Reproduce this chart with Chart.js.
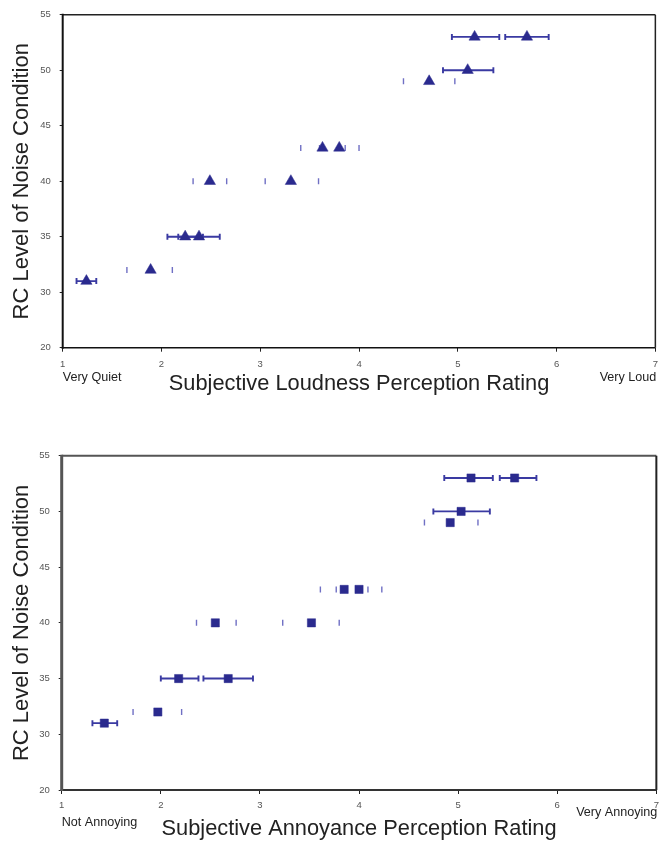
<!DOCTYPE html>
<html>
<head>
<meta charset="utf-8">
<script src="https://cdn.jsdelivr.net/npm/chart.js@4.4.1/dist/chart.umd.min.js"></script>
<style>
  html, body { margin: 0; padding: 0; background: #fff; }
  body { width: 665px; height: 842px; position: relative; overflow: hidden; }
  .box { position: absolute; left: 0; width: 665px; }
  #topBox { top: 0; height: 400px; }
  #bottomBox { top: 400px; height: 442px; }
</style>
</head>
<body>
<div class="box" id="topBox"><canvas id="loudChart"></canvas></div>
<div class="box" id="bottomBox"><canvas id="annoyChart"></canvas></div>
<script>
// y axis is broken at the bottom: the 25 position is labelled "20"
const yTickValues = [25, 30, 35, 40, 45, 50, 55];
const yTickLabels = ["20", "30", "35", "40", "45", "50", "55"];

// loudness ratings
const loudRC = [31, 32, 35, 35, 40, 40, 43, 43, 49, 50, 53, 53];
const loudMean = [1.24, 1.89, 2.24, 2.38, 2.49, 3.31, 3.63, 3.80, 4.71, 5.10, 5.17, 5.70];
const loudLow = [1.14, 1.65, 2.06, 2.17, 2.32, 3.05, 3.41, 3.60, 4.45, 4.85, 4.94, 5.48];
const loudHigh = [1.34, 2.11, 2.42, 2.59, 2.66, 3.59, 3.86, 4.00, 4.97, 5.36, 5.42, 5.92];

// annoyance ratings
const annoyRC = [31, 32, 35, 35, 40, 40, 43, 43, 49, 50, 53, 53];
const annoyMean = [1.43, 1.97, 2.18, 2.68, 2.55, 3.52, 3.85, 4.00, 4.92, 5.03, 5.13, 5.57];
const annoyLow = [1.31, 1.72, 2.00, 2.43, 2.36, 3.23, 3.61, 3.77, 4.66, 4.75, 4.86, 5.42];
const annoyHigh = [1.56, 2.21, 2.38, 2.93, 2.76, 3.80, 4.09, 4.23, 5.20, 5.32, 5.35, 5.79];

// in the scan some error bars only show their end caps
const capsOnly = [false, true, false, false, true, true, true, true, true, false, false, false];

const MARK = "#2a2a8e";
const BAR = "#3a3aa2";

function errorBars(rc, low, high) {
  return {
    id: "errorBars",
    beforeDatasetsDraw(chart) {
      const ctx = chart.ctx;
      const xs = chart.scales.x, ys = chart.scales.y;
      ctx.save();
      for (let i = 0; i < rc.length; i++) {
        const y = ys.getPixelForValue(rc[i]);
        const x1 = xs.getPixelForValue(low[i]);
        const x2 = xs.getPixelForValue(high[i]);
        ctx.strokeStyle = capsOnly[i] ? "#7070c4" : BAR;
        ctx.lineWidth = capsOnly[i] ? 1.4 : 1.9;
        ctx.beginPath();
        if (!capsOnly[i]) {
          ctx.moveTo(x1, y);
          ctx.lineTo(x2, y);
        }
        ctx.moveTo(x1, y - 3);
        ctx.lineTo(x1, y + 3);
        ctx.moveTo(x2, y - 3);
        ctx.lineTo(x2, y + 3);
        ctx.stroke();
      }
      ctx.restore();
    }
  };
}

function frame(f) {
  return {
    id: "frame",
    afterDraw(chart) {
      const { ctx, chartArea: a } = chart;
      const side = (w, c, x1, y1, x2, y2) => {
        ctx.lineWidth = w;
        ctx.strokeStyle = c;
        ctx.beginPath();
        ctx.moveTo(x1, y1);
        ctx.lineTo(x2, y2);
        ctx.stroke();
      };
      ctx.save();
      side(f.top[0], f.top[1], a.left, a.top, a.right, a.top);
      side(f.right[0], f.right[1], a.right, a.top, a.right, a.bottom);
      side(f.bottom[0], f.bottom[1], a.left - 1, a.bottom, a.right, a.bottom);
      side(f.left[0], f.left[1], a.left, a.top - 1, a.left, a.bottom + 1);

      // end-of-scale words under the x axis
      ctx.fillStyle = "#222";
      ctx.font = "12.6px 'Liberation Sans', Arial, sans-serif";
      ctx.textBaseline = "middle";
      ctx.textAlign = "left";
      ctx.fillText(f.leftWord, a.left, a.bottom + f.leftDy);
      ctx.textAlign = "right";
      ctx.fillText(f.rightWord, a.right + 1, a.bottom + f.rightDy);
      ctx.restore();
    }
  };
}

function makeChart(id, rc, mean, low, high, opts) {
  const points = mean.map((x, i) => ({ x: x, y: rc[i] }));
  return new Chart(document.getElementById(id), {
    type: "scatter",
    data: {
      datasets: [{
        data: points,
        pointStyle: opts.marker,
        radius: opts.radius,
        backgroundColor: MARK,
        borderColor: MARK,
        borderWidth: 0.5
      }]
    },
    options: {
      responsive: true,
      maintainAspectRatio: false,
      animation: false,
      events: [],
      layout: { padding: { top: opts.padTop, right: opts.padRight, left: 0, bottom: 0 } },
      plugins: { legend: { display: false }, tooltip: { enabled: false } },
      scales: {
        x: {
          type: "linear",
          min: 1,
          max: 7,
          afterFit: (s) => { s.height = opts.xHeight; },
          ticks: {
            stepSize: 1,
            padding: opts.xTickPad,
            color: "#555",
            font: { family: "'Liberation Sans', Arial, sans-serif", size: 9.5 }
          },
          grid: { drawOnChartArea: false, tickLength: 4, color: "#222" },
          border: { display: false },
          title: {
            display: true,
            text: opts.xTitle,
            color: "#222",
            font: { family: "'Liberation Sans', Arial, sans-serif", size: 21.8 },
            padding: { top: 0, bottom: opts.xTitlePad }
          }
        },
        y: {
          type: "linear",
          min: 25,
          max: 55,
          afterFit: (s) => { s.width = opts.yWidth; },
          afterBuildTicks: (s) => { s.ticks = yTickValues.map((v) => ({ value: v })); },
          ticks: {
            padding: 9,
            color: "#555",
            font: { family: "'Liberation Sans', Arial, sans-serif", size: 9.5 },
            callback: (v) => yTickLabels[yTickValues.indexOf(v)]
          },
          grid: { drawOnChartArea: false, tickLength: 3, color: "#222" },
          border: { display: false },
          title: {
            display: true,
            text: "RC Level of Noise Condition",
            color: "#222",
            font: { family: "'Liberation Sans', Arial, sans-serif", size: 22 },
            padding: { top: 9, bottom: 0 }
          }
        }
      }
    },
    plugins: [errorBars(rc, low, high), frame(opts.frame)]
  });
}

makeChart("loudChart", loudRC, loudMean, loudLow, loudHigh, {
  marker: "triangle",
  radius: 6.5,
  padTop: 14.3,
  padRight: 7,
  yWidth: 62.7,
  xHeight: 52.3,
  xTickPad: 7,
  xTitlePad: 3,
  xTitle: "Subjective Loudness Perception Rating",
  frame: {
    top: [1.5, "#222"], right: [1.5, "#222"], bottom: [1.6, "#111"], left: [2, "#111"],
    leftWord: "Very Quiet", rightWord: "Very Loud", leftDy: 30, rightDy: 30
  }
});

makeChart("annoyChart", annoyRC, annoyMean, annoyLow, annoyHigh, {
  marker: "rect",
  radius: 5.8,
  padTop: 55.7,
  padRight: 7.3,
  yWidth: 61.7,
  xHeight: 52,
  xTickPad: 6,
  xTitlePad: 0,
  xTitle: "Subjective Annoyance Perception Rating",
  frame: {
    top: [2, "#555"], right: [2, "#222"], bottom: [2, "#333"], left: [3, "#555"],
    leftWord: "Not Annoying", rightWord: "Very Annoying", leftDy: 33, rightDy: 23
  }
});
</script>
</body>
</html>
